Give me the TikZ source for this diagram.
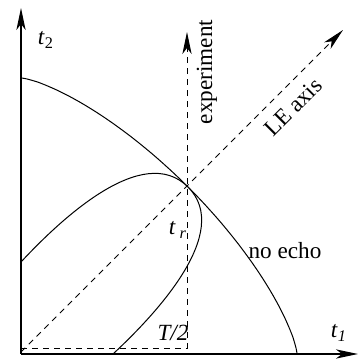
\documentclass[tikz,border=0pt]{standalone}
\usepackage{fontspec}
\setmainfont{Liberation Serif}
\usepackage{tikz}
\usetikzlibrary{calc,positioning,arrows.meta}

\tikzset{
  axisline/.style={line width=0.6pt, -{Stealth[length=11pt, width=4.6pt, inset=3pt]}},
  guide/.style={line width=0.5pt, dashed, dash pattern=on 3pt off 2.5pt},
  guidearrow/.style={guide, -{Stealth[length=11pt, width=4.6pt, inset=3pt]}},
  curve/.style={line width=0.5pt},
  lbl/.style={inner sep=0pt, font=\fontsize{11.6}{13}\selectfont},
}

\begin{document}
\begin{tikzpicture}[x=0.5pt, y=0.5pt]
\useasboundingbox (-21,-6) rectangle (339,354);
% reference points
\coordinate (O) at (0,0);
\coordinate (t1end) at (337,0);
\coordinate (t2end) at (0,346);
\coordinate (base) at (0,5);
\coordinate (foot) at (166,5);
\coordinate (exptop) at (166,322);
\coordinate (lestart) at (0,2);
\coordinate (letop) at (322,324);
\coordinate (tr) at (167,167);
% axes
\draw[axisline] (O) -- (t1end);
\draw[axisline] (O) -- (t2end);
% dashed guides
\draw[guide] (base) -- (foot);
\draw[guidearrow] (foot) -- (exptop);
\draw[guidearrow] (lestart) -- (letop);
% no-echo boundary
\draw[curve] plot[domain=0:90, samples=91, smooth]
  ({276*max(cos(\x),0.00001)^1.45}, {276*max(sin(\x),0.00001)^1.45});
% echo loop through t_r
\draw[curve] (0,92) .. controls (40,135) and (122,212) .. (tr)
  .. controls (212,122) and (135,40) .. (92,0);
% labels
\node[lbl] (t2lbl) at (25,314) {\textit{t}\textsubscript{2}};
\node[lbl] (t1lbl) at (318,21) {\textit{t}\textsubscript{\textit{1}}};
\node[lbl, rotate=90] (explbl) at (186,282) {experiment};
\node[lbl, rotate=45] (lelbl) at (272,247) {LE axis};
\node[lbl] (nolbl) at (264,103) {no echo};
\node[lbl] (trlbl) at (157,124) {\textit{t}\,\textsubscript{\textit{r}}};
\node[lbl] (halflbl) at (152,21) {\textit{T/2}};
\end{tikzpicture}
\end{document}
